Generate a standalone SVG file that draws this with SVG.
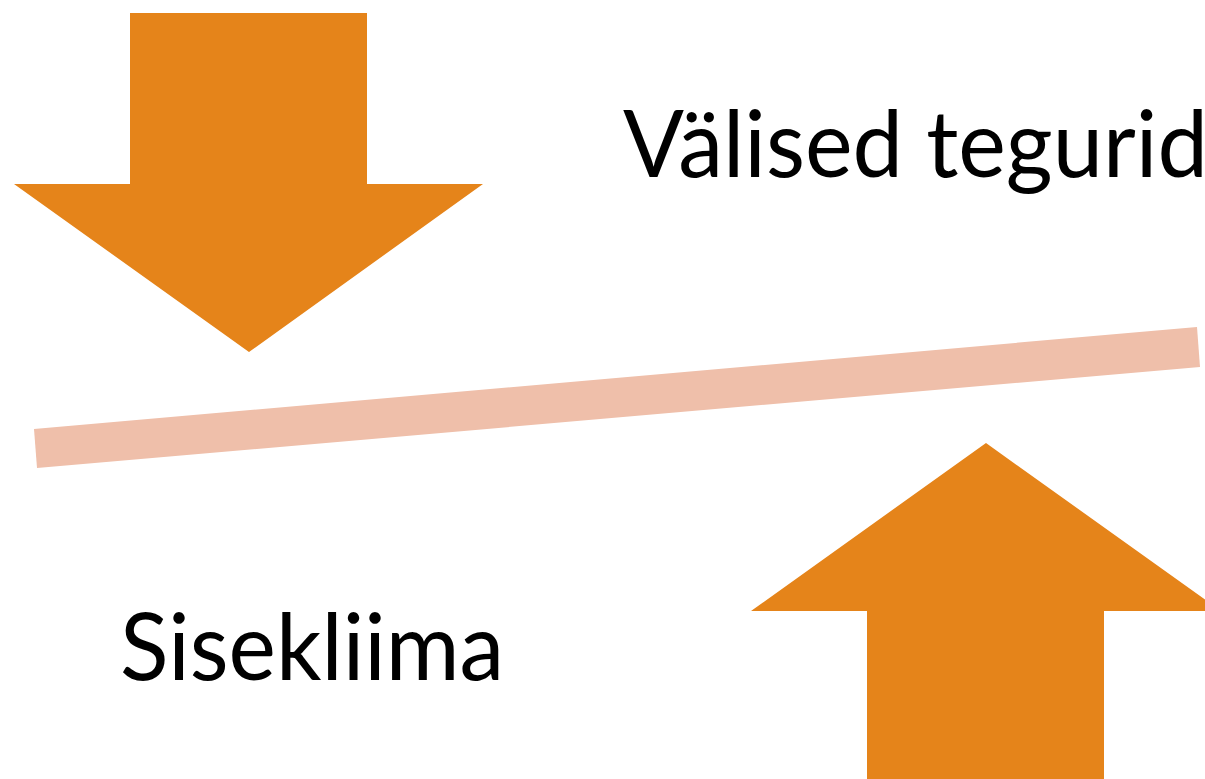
<svg xmlns="http://www.w3.org/2000/svg" width="1205" height="779" viewBox="0 0 1205 779">
<style>
.arrow{fill:#E5841A}
.band{fill:#EFBFAA}
.lbl{font-family:Lato,"Liberation Sans",sans-serif;font-size:94px;fill:#000}
</style>
<rect width="1205" height="779" fill="#FFFFFF"/>
<g id="band">
<polygon class="band" points="34,429 1197,327 1200,367 37,468"/>
</g>
<g id="arrow-down">
<polygon class="arrow" points="130,13 367,13 367,184 483,184 249,352 14,184 130,184"/>
</g>
<g id="arrow-up">
<polygon class="arrow" points="986,443 1221,611 1104,611 1104,790 867,790 867,611 751,611"/>
</g>
<g id="label-valised">
<text class="lbl" x="623" y="177" textLength="585" lengthAdjust="spacingAndGlyphs">Välised tegurid</text>
</g>
<g id="label-sisekliima">
<text class="lbl" x="120" y="680" textLength="384" lengthAdjust="spacingAndGlyphs">Sisekliima</text>
</g>
</svg>
